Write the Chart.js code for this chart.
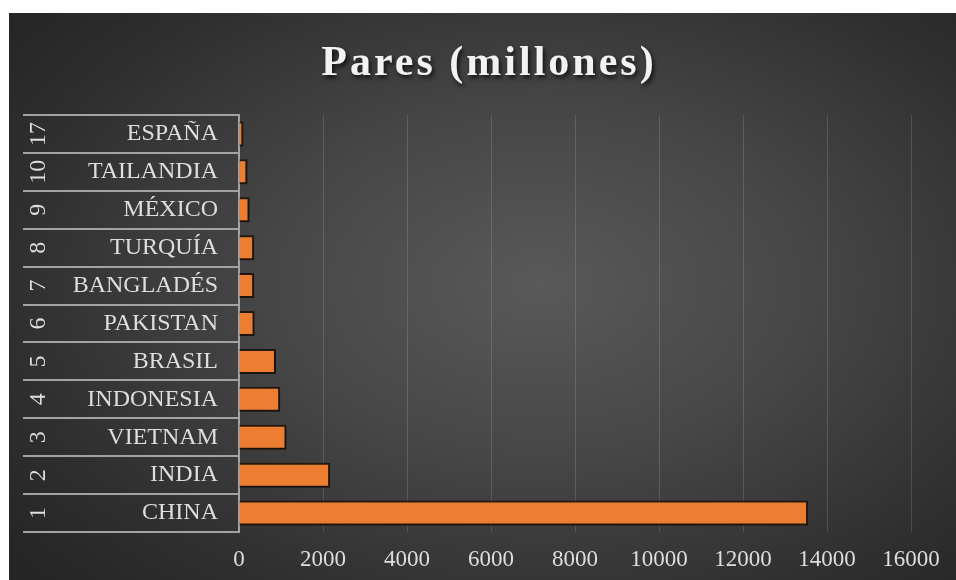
<!DOCTYPE html>
<html>
<head>
<meta charset="utf-8">
<script src="https://cdn.jsdelivr.net/npm/chart.js@4/dist/chart.umd.min.js"></script>
<style>
  html, body { margin: 0; padding: 0; background: #fff; }
  #wrap {
    position: absolute; left: 9px; top: 13px; width: 947px; height: 567px;
    background: radial-gradient(ellipse 70% 75% at 56% 48%, #595959 0%, #474747 40%, #2f2f2f 80%, #262626 100%);
  }
</style>
</head>
<body>
<div id="wrap"><canvas id="chart"></canvas></div>
<script>
// datos (de arriba a abajo)
const titulo = "Pares (millones)";
const ranking = ["17", "10", "9", "8", "7", "6", "5", "4", "3", "2", "1"];
const paises = ["ESPAÑA", "TAILANDIA", "MÉXICO", "TURQUÍA", "BANGLADÉS", "PAKISTAN", "BRASIL", "INDONESIA", "VIETNAM", "INDIA", "CHINA"];
const pares = [100, 200, 250, 360, 360, 370, 880, 980, 1130, 2170, 13550];
const ticksX = [0, 2000, 4000, 6000, 8000, 10000, 12000, 14000, 16000];

const SERIF = '"Liberation Serif", "Times New Roman", serif';
const GRIS_TEXTO = "#dedede";
const GRIS_TABLA = "#a3a3a3";

// título con sombra, dibujado a mano para poder espaciar letras
const tituloPlugin = {
    id: "tituloPlugin",
    afterDraw(chart) {
        const ctx = chart.ctx;
        ctx.save();
        ctx.font = "bold 42px " + SERIF;
        ctx.letterSpacing = "3px";
        ctx.textAlign = "center";
        ctx.textBaseline = "alphabetic";
        ctx.fillStyle = "#f2f2f2";
        ctx.shadowColor = "rgba(0,0,0,0.7)";
        ctx.shadowOffsetX = 2;
        ctx.shadowOffsetY = 3;
        ctx.shadowBlur = 4;
        ctx.fillText(titulo, 480, 62);
        ctx.restore();
    },
};

// números del ranking, girados, en la primera columna de la tabla
const rankingPlugin = {
    id: "rankingPlugin",
    afterDraw(chart) {
        const ctx = chart.ctx;
        const yScale = chart.scales.y;
        ctx.save();
        ctx.font = "24px " + SERIF;
        ctx.fillStyle = GRIS_TEXTO;
        ctx.textAlign = "center";
        ctx.textBaseline = "middle";
        ranking.forEach((r, i) => {
            const y = yScale.getPixelForValue(i);
            ctx.save();
            ctx.translate(30, y);
            ctx.rotate(-Math.PI / 2);
            ctx.fillText(r, 0, 0);
            ctx.restore();
        });
        ctx.restore();
    },
};

// sombra suave bajo las barras
const sombraPlugin = {
    id: "sombraPlugin",
    beforeDatasetsDraw(chart) {
        const ctx = chart.ctx;
        ctx.save();
        ctx.shadowColor = "rgba(0,0,0,0.45)";
        ctx.shadowBlur = 3;
        ctx.shadowOffsetX = 1;
        ctx.shadowOffsetY = 1;
    },
    afterDatasetsDraw(chart) {
        chart.ctx.restore();
    },
};

new Chart(document.getElementById("chart"), {
    type: "bar",
    data: {
        labels: paises,
        datasets: [{
            label: titulo,
            data: pares,
            backgroundColor: "#ed7d31",
            borderColor: "#24180e",
            borderWidth: 2,
            categoryPercentage: 1,
            barPercentage: 0.66,
        }],
    },
    options: {
        indexAxis: "y",
        responsive: true,
        maintainAspectRatio: false,
        animation: false,
        layout: { padding: { top: 102, right: 45, left: 0, bottom: 0 } },
        plugins: {
            legend: { display: false },
            title: { display: false },
            tooltip: { enabled: false },
        },
        scales: {
            x: {
                min: ticksX[0],
                max: ticksX[ticksX.length - 1],
                afterBuildTicks: (scale) => {
                    scale.ticks = ticksX.map((v) => ({ value: v }));
                },
                afterFit: (scale) => { scale.height = 48; },
                grid: { color: "rgba(255,255,255,0.14)", lineWidth: 1, drawTicks: false },
                border: { display: false },
                ticks: {
                    color: GRIS_TEXTO,
                    padding: 14,
                    font: { family: SERIF, size: 23 },
                    maxRotation: 0,
                    callback: (v) => String(v),
                },
            },
            y: {
                afterFit: (scale) => { scale.width = 230; },
                grid: {
                    drawOnChartArea: false,
                    drawTicks: true,
                    tickLength: 216,
                    color: GRIS_TABLA,
                    lineWidth: 2,
                    offset: true,
                },
                border: { display: true, color: GRIS_TABLA, width: 2 },
                ticks: {
                    color: GRIS_TEXTO,
                    padding: -195,
                    font: { family: SERIF, size: 24 },
                    autoSkip: false,
                },
            },
        },
    },
    plugins: [sombraPlugin, rankingPlugin, tituloPlugin],
});
</script>
</body>
</html>
